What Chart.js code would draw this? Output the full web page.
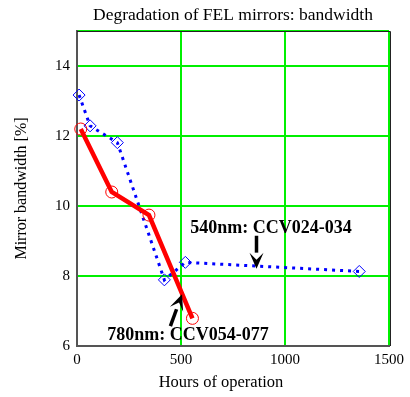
<!DOCTYPE html>
<html>
<head>
<meta charset="utf-8">
<script src="https://cdn.jsdelivr.net/npm/chart.js@4/dist/chart.umd.min.js"></script>
<style>
    html, body { margin: 0; padding: 0; background: #fff; }
    #wrap { width: 410px; height: 397px; position: relative; }
</style>
</head>
<body>
<div id="wrap"><canvas id="chart"></canvas></div>
<script>
// Hours of operation / mirror bandwidth [%]
const hours780 = [18, 167, 346, 555];
const bw780 = [12.2, 10.4, 9.74, 6.79];

const hours540 = [10, 63, 194, 420, 521, 1357];
const bw540 = [13.17, 12.29, 11.81, 7.89, 8.39, 8.13];

const xTicks = [0, 500, 1000, 1500];
const yTicks = [6, 8, 10, 12, 14, 15];

const chartTitle = 'Degradation of FEL mirrors: bandwidth';
const xTitle = 'Hours of operation';

const labels = [
    { text: '540nm: CCV024-034', x: 545, y: 9.35 },
    { text: '780nm: CCV054-077', x: 145, y: 6.31 }
];
// arrows: from -> to (head at "to")
const arrows = [
    { x0: 863, y0: 9.15, x1: 863, y1: 8.21 },
    { x0: 449, y0: 6.57, x1: 505, y1: 7.48 }
];

const serif = '"Liberation Serif", "Times New Roman", serif';
const gridGreen = '#00f000';

const overlay = {
    id: 'overlay',
    afterDatasetsDraw(chart) {
        const { ctx, chartArea: a, scales: { x, y } } = chart;
        ctx.save();
        // frame top / right
        ctx.strokeStyle = '#222';
        ctx.lineWidth = 1;
        ctx.beginPath();
        ctx.moveTo(a.left, a.top + 0.5);
        ctx.lineTo(a.right + 1.5, a.top + 0.5);
        ctx.lineTo(a.right + 1.5, a.bottom);
        ctx.stroke();

        // titles
        ctx.fillStyle = '#000';
        ctx.textAlign = 'center';
        ctx.textBaseline = 'middle';
        ctx.font = '17.5px ' + serif;
        ctx.fillText(chartTitle, (a.left + a.right) / 2, 15);
        ctx.font = '16.5px ' + serif;
        ctx.fillText(xTitle, 221, 383);

        // arrows
        ctx.strokeStyle = '#000';
        arrows.forEach(ar => {
            const px0 = x.getPixelForValue(ar.x0), py0 = y.getPixelForValue(ar.y0);
            const px1 = x.getPixelForValue(ar.x1), py1 = y.getPixelForValue(ar.y1);
            const ang = Math.atan2(py1 - py0, px1 - px0);
            const hl = 16, hw = 7;
            const bx = px1 - Math.cos(ang) * hl, by = py1 - Math.sin(ang) * hl;
            ctx.lineWidth = 3.5;
            ctx.beginPath();
            ctx.moveTo(px0, py0);
            ctx.lineTo(bx, by);
            ctx.stroke();
            ctx.beginPath();
            ctx.moveTo(px1, py1);
            ctx.lineTo(bx - Math.sin(ang) * hw, by + Math.cos(ang) * hw);
            ctx.lineTo(px1 - Math.cos(ang) * hl * 0.55, py1 - Math.sin(ang) * hl * 0.55);
            ctx.lineTo(bx + Math.sin(ang) * hw, by - Math.cos(ang) * hw);
            ctx.closePath();
            ctx.fill();
        });

        // labels
        ctx.font = 'bold 18px ' + serif;
        ctx.textAlign = 'left';
        labels.forEach(l => {
            ctx.fillText(l.text, x.getPixelForValue(l.x), y.getPixelForValue(l.y));
        });
        ctx.restore();
    }
};

new Chart(document.getElementById('chart'), {
    type: 'line',
    data: {
        datasets: [{
            label: '780nm',
            data: hours780.map((h, i) => ({ x: h, y: bw780[i] })),
            borderColor: '#ff0000',
            borderWidth: 4.5,
            pointStyle: 'circle',
            pointRadius: 6,
            pointBorderWidth: 1,
            pointBorderColor: '#ff0000',
            pointBackgroundColor: 'rgba(0,0,0,0)',
            tension: 0,
            clip: false
        }, {
            label: '540nm',
            data: hours540.map((h, i) => ({ x: h, y: bw540[i] })),
            borderColor: '#0000ff',
            borderWidth: 3,
            borderDash: [3, 5],
            pointStyle: 'rectRot',
            pointRadius: 6,
            pointBorderWidth: 1,
            pointBorderColor: '#0000ff',
            pointBackgroundColor: 'rgba(0,0,0,0)',
            tension: 0,
            clip: false
        }]
    },
    options: {
        responsive: true,
        maintainAspectRatio: false,
        animation: false,
        layout: { padding: { left: 0, right: 21, top: 31, bottom: 0 } },
        plugins: {
            legend: { display: false },
            tooltip: { enabled: false },
            title: { display: false }
        },
        scales: {
            x: {
                type: 'linear',
                min: 0,
                max: 1500,
                afterBuildTicks: s => { s.ticks = xTicks.map(v => ({ value: v })); },
                afterFit: s => { s.height = 51; },
                grid: { color: gridGreen, lineWidth: 2, drawTicks: false },
                border: { color: '#555', width: 2 },
                ticks: {
                    color: '#000',
                    padding: 5,
                    maxRotation: 0,
                    font: { family: serif, size: 15 },
                    callback: v => String(v)
                }
            },
            y: {
                type: 'linear',
                min: 6,
                max: 15,
                afterBuildTicks: s => { s.ticks = yTicks.map(v => ({ value: v })); },
                afterFit: s => { s.width = 77; },
                grid: { color: gridGreen, lineWidth: 2, drawTicks: false },
                border: { color: '#555', width: 2 },
                ticks: {
                    color: '#000',
                    padding: 7,
                    font: { family: serif, size: 15 },
                    callback: v => (v === 15 ? '' : String(v))
                },
                title: {
                    display: true,
                    text: 'Mirror bandwidth [%]',
                    color: '#000',
                    font: { family: serif, size: 16 },
                    padding: { top: 12, bottom: 0 }
                }
            }
        }
    },
    plugins: [overlay]
});
</script>
</body>
</html>
